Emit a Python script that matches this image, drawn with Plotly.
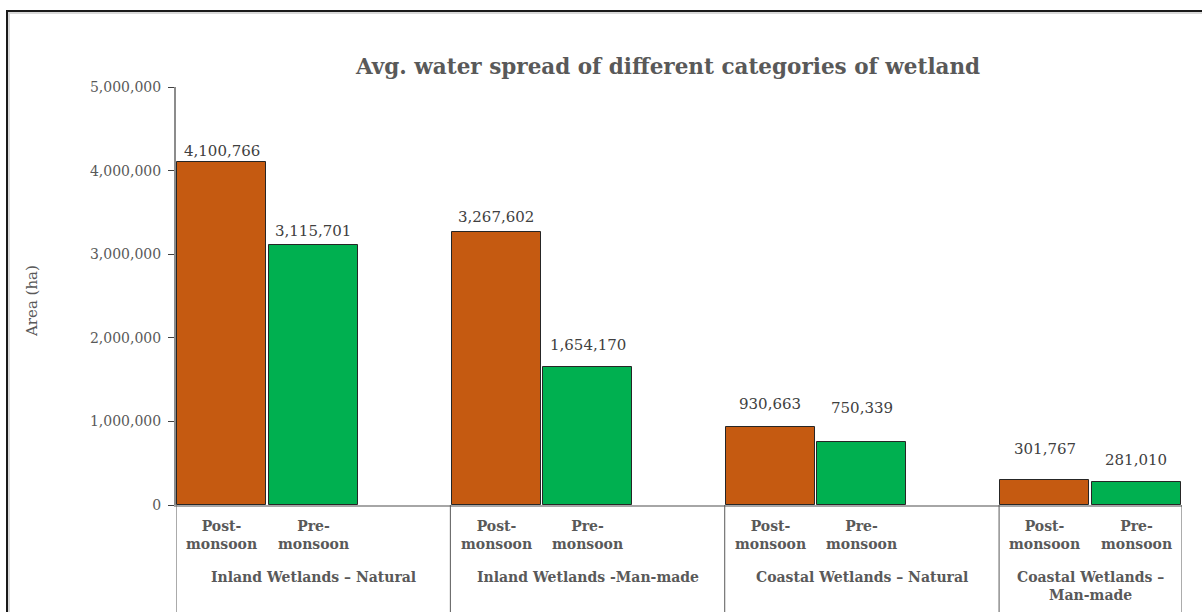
import plotly.graph_objects as go

groups = ["Inland Wetlands – Natural", "Inland Wetlands -Man-made",
          "Coastal Wetlands – Natural", "Coastal Wetlands –<br>Man-made"]
seasons = ["Post-<br>monsoon", "Pre-<br>monsoon"]
post_monsoon = [4100766, 3267602, 930663, 301767]
pre_monsoon = [3115701, 1654170, 750339, 281010]
y_ticks = [0, 1000000, 2000000, 3000000, 4000000, 5000000]

# style: vertical pixel gap between each label and its bar top (as in the reference)
post_label_gap = [9, 13, 21, 29]
pre_label_gap = [12, 20, 32, 20]

W, H = 1202, 612
L, R, T, B = 176, 20, 87, 107
PW, PH = W - L - R, H - T - B

def px(x):
    return (x - L) / PW

def py(y):
    return (H - B - y) / PH

SLOTS = 3
n_slots = SLOTS * (len(groups) - 1) + len(seasons)
xs_post = [g * SLOTS + 0 for g in range(len(groups))]
xs_pre = [g * SLOTS + 1 for g in range(len(groups))]

FONT = "DejaVu Serif"
fig = go.Figure()
fig.add_trace(go.Bar(x=xs_post, y=post_monsoon, width=0.975, name="Post-monsoon",
                     marker=dict(color="#C55A11", line=dict(color="#262626", width=1))))
fig.add_trace(go.Bar(x=xs_pre, y=pre_monsoon, width=0.975, name="Pre-monsoon",
                     marker=dict(color="#00B050", line=dict(color="#262626", width=1))))

ann = []
for xs, vals, gaps in [(xs_post, post_monsoon, post_label_gap), (xs_pre, pre_monsoon, pre_label_gap)]:
    for x, v, gp in zip(xs, vals, gaps):
        ann.append(dict(x=x, y=v, xref="x", yref="y", text=f"{v:,}", showarrow=False,
                        yanchor="bottom", yshift=gp - 9,
                        font=dict(family=FONT, size=15, color="#404040")))
# season labels
for g in range(len(groups)):
    for s, lab in enumerate(seasons):
        ann.append(dict(x=g * SLOTS + s, y=py(516), xref="x", yref="paper", text=f"<b>{lab}</b>",
                        showarrow=False, yanchor="top",
                        font=dict(family=FONT, size=14, color="#595959")))
# group labels
for g, lab in enumerate(groups):
    left = g * SLOTS - 0.5
    right = min(g * SLOTS + SLOTS - 0.5, n_slots - 0.5)
    ann.append(dict(x=(left + right) / 2, y=py(567), xref="x", yref="paper", text=f"<b>{lab}</b>",
                    showarrow=False, yanchor="top",
                    font=dict(family=FONT, size=14, color="#595959")))
# title
ann.append(dict(x=px(667), y=py(67), xref="paper", yref="paper",
                text="<b>Avg. water spread of different categories of wetland</b>",
                showarrow=False, xanchor="center", yanchor="middle",
                font=dict(family=FONT, size=21.5, color="#595959")))
# y-axis title
ann.append(dict(x=px(32), y=py(301), xref="paper", yref="paper", text="Area (ha)",
                showarrow=False, textangle=-90, xanchor="center", yanchor="middle",
                font=dict(family=FONT, size=15, color="#595959")))

shapes = []
# group divider lines below the axis
for g in range(len(groups) + 1):
    xb = min(g * SLOTS - 0.5, n_slots - 0.5)
    shapes.append(dict(type="line", xref="x", yref="paper", x0=xb, x1=xb, y0=0, y1=py(H),
                       line=dict(color="#595959", width=1)))
# outer frame (top and left, with soft shadow)
shapes.append(dict(type="line", xref="paper", yref="paper", x0=px(6), x1=px(W), y0=py(13), y1=py(13),
                   line=dict(color="#D9D9D9", width=2)))
shapes.append(dict(type="line", xref="paper", yref="paper", x0=px(9), x1=px(9), y0=py(11), y1=py(H),
                   line=dict(color="#D9D9D9", width=2)))
shapes.append(dict(type="line", xref="paper", yref="paper", x0=px(6), x1=px(W), y0=py(11), y1=py(11),
                   line=dict(color="#1A1A1A", width=2)))
shapes.append(dict(type="line", xref="paper", yref="paper", x0=px(7), x1=px(7), y0=py(10), y1=py(H),
                   line=dict(color="#1A1A1A", width=2)))

fig.update_layout(
    width=W, height=H, margin=dict(l=L, r=R, t=T, b=B, autoexpand=False),
    paper_bgcolor="white", plot_bgcolor="white", showlegend=False,
    bargap=0, annotations=ann, shapes=shapes,
    xaxis=dict(range=[-0.5, n_slots - 0.5], showticklabels=False, ticks="", showgrid=False,
               zeroline=False, showline=True, linecolor="#A6A6A6", linewidth=1.5, fixedrange=True),
    yaxis=dict(range=[0, 5000000], tickvals=y_ticks, tickformat=",", showgrid=False, zeroline=False,
               showline=True, linecolor="#8C8C8C", linewidth=2, ticks="outside", ticklen=6,
               tickcolor="#404040", tickwidth=1, ticklabelstandoff=4,
               tickfont=dict(family=FONT, size=14, color="#595959"), fixedrange=True),
)
fig.write_html("out.html")
